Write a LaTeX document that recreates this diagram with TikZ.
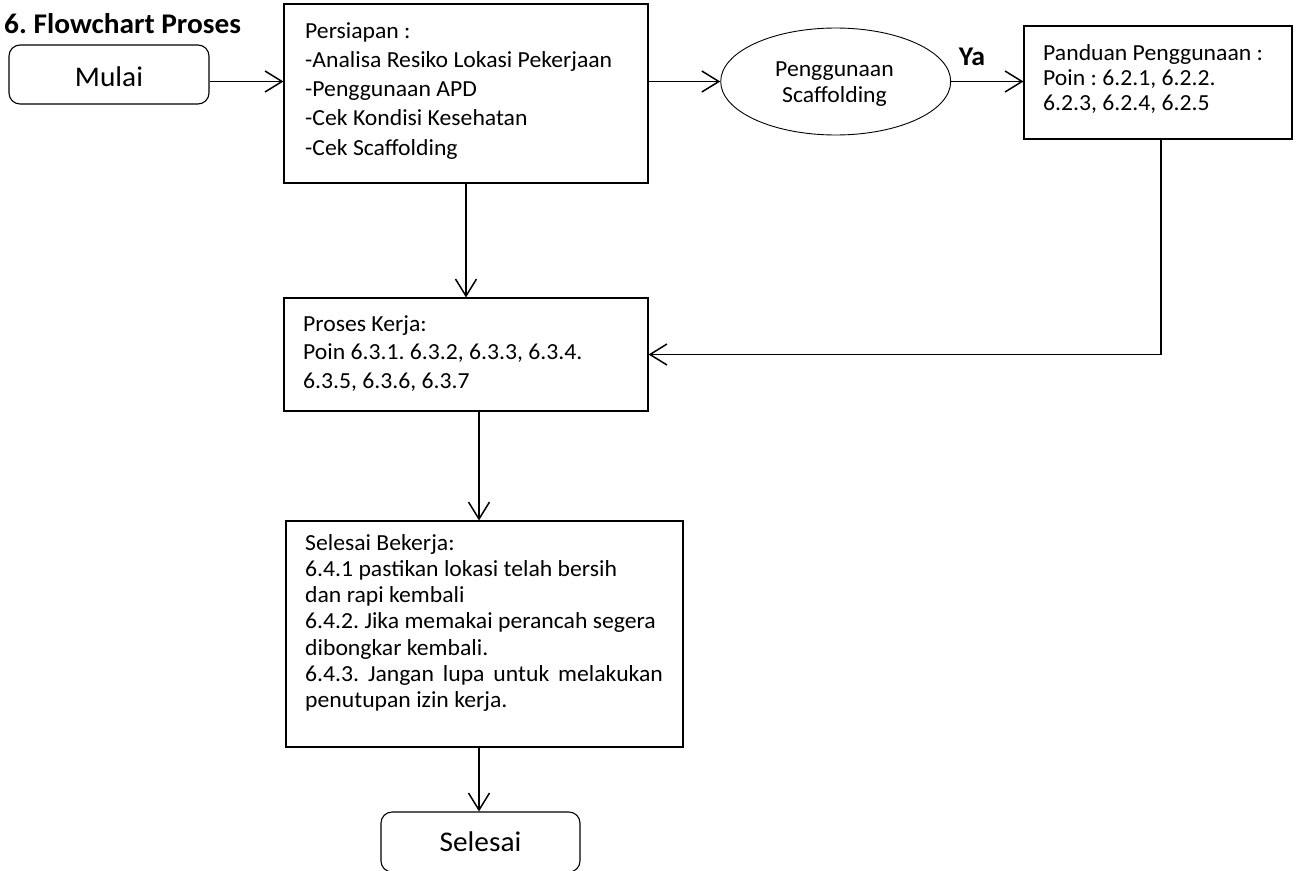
\documentclass[tikz,border=0pt]{standalone}
\usepackage{fontspec}
\setmainfont{Carlito}[FakeStretch=1.03]
\usetikzlibrary{arrows.meta,shapes.geometric}
\tikzset{
  box/.style={draw, line width=1.1pt, inner sep=0pt, fill=white},
  rbox/.style={box, rounded corners=11pt},
  conn/.style={line width=1.5pt, -{Straight Barb[length=17pt,width=21pt]}},
  txt/.style={anchor=base west, inner sep=0pt, font=\fontsize{23}{27}\selectfont},
  ctxt/.style={anchor=base, inner sep=0pt, font=\fontsize{23}{27}\selectfont},
  bigtxt/.style={anchor=base, inner sep=0pt, font=\fontsize{28.5}{33}\selectfont},
  boldtxt/.style={inner sep=0pt, font=\fontsize{28.5}{33}\selectfont\bfseries},
}
\begin{document}
\frenchspacing
\begin{tikzpicture}[x=1pt,y=-1pt]
\clip (0,0) rectangle (1297,870);
\fill[white] (0,0) rectangle (1297,870);

% title
\node[boldtxt, anchor=base west] (title) at (4,33) {6. Flowchart Proses};

% shapes
\node[rbox, minimum width=200pt, minimum height=59pt] (mulai) at (109,74.5) {};
\node[box, minimum width=364pt, minimum height=179pt] (prep) at (466,93.5) {};
\node[box, ellipse, line width=0.9pt, minimum width=230pt, minimum height=107pt] (scaf) at (835.7,81.5) {};
\node[box, minimum width=268pt, minimum height=113pt] (pand) at (1158,82.5) {};
\node[box, minimum width=364pt, minimum height=113pt] (proc) at (466,354.5) {};
\node[box, minimum width=397pt, minimum height=226pt] (done) at (484.5,634) {};
\node[rbox, minimum width=199pt, minimum height=60pt] (fin) at (480.5,842) {};

% texts
\node[bigtxt] (tmulai) at (109,86.7) {Mulai};
\node[bigtxt] (tfin) at (480.5,851.7) {Selesai};

\foreach \t [count=\i from 0] in {Persiapan :, -Analisa Resiko Lokasi Pekerjaan, -Penggunaan APD, -Cek Kondisi Kesehatan, -Cek Scaffolding}
  \node[txt] (p\i) at (305,38+29.3*\i) {\t};

\node[ctxt] (s0) at (834.5,76) {Penggunaan};
\node[ctxt] (s1) at (834.5,102) {Scaffolding};

\foreach \t [count=\i from 0] in {Panduan Penggunaan :, {Poin : 6.2.1, 6.2.2.}, {6.2.3, 6.2.4, 6.2.5}}
  \node[txt] (g\i) at (1043,60.7+25*\i) {\t};

\foreach \t [count=\i from 0] in {Proses Kerja:, {Poin 6.3.1. 6.3.2, 6.3.3, 6.3.4.}, {6.3.5, 6.3.6, 6.3.7}}
  \node[txt] (k\i) at (303,331.7+28.2*\i) {\t};

\foreach \t [count=\i from 0] in {Selesai Bekerja:, 6.4.1 pastikan lokasi telah bersih, dan rapi kembali, 6.4.2. Jika memakai perancah segera, dibongkar kembali., {\makebox[357.7pt][s]{6.4.3. Jangan lupa untuk melakukan}}, penutupan izin kerja.}
  \node[txt] (d\i) at (305,550+26.3*\i) {\t};

\node[boldtxt, anchor=base, font=\fontsize{27}{31}\selectfont\bfseries] (ya) at (972,65) {Ya};

% connectors
\coordinate (a1) at ([yshift=-7pt]mulai.east);
\draw[conn] (a1) -- (a1 -| prep.west);
\draw[conn] (scaf.west -| prep.east) -- (scaf.west);
\draw[conn] (scaf.east) -- (scaf.east -| pand.west);
\draw[conn] ([xshift=3pt]pand.south) |- (proc.east);
\draw[conn] (prep.south) -- (proc.north);
\coordinate (axis) at (479,0);
\draw[conn] (proc.south -| axis) -- (done.north -| axis);
\draw[conn] (done.south -| axis) -- (fin.north -| axis);
\end{tikzpicture}
\end{document}
